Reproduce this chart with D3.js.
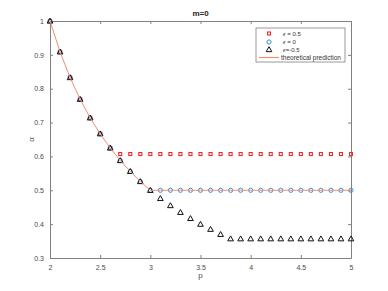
<!DOCTYPE html>
<html>
<head>
<meta charset="utf-8">
<script src="https://cdn.jsdelivr.net/npm/d3@7"></script>
<style>
  body { margin: 0; background: #fff; }
  text { font-family: "Liberation Sans", Arial, sans-serif; }
</style>
</head>
<body>
<script>
let width = 388,
  height = 291

// data
let pValues = [2.0, 2.1, 2.2, 2.3, 2.4, 2.5, 2.6, 2.7, 2.8, 2.9, 3.0, 3.1, 3.2, 3.3, 3.4, 3.5,
  3.6, 3.7, 3.8, 3.9, 4.0, 4.1, 4.2, 4.3, 4.4, 4.5, 4.6, 4.7, 4.8, 4.9, 5.0]
let epsPos = [1, 0.909, 0.833, 0.769, 0.714, 0.667, 0.625, 0.607, 0.607, 0.607, 0.607, 0.607,
  0.607, 0.607, 0.607, 0.607, 0.607, 0.607, 0.607, 0.607, 0.607, 0.607, 0.607, 0.607, 0.607,
  0.607, 0.607, 0.607, 0.607, 0.607, 0.607]
let epsZero = [1, 0.909, 0.833, 0.769, 0.714, 0.667, 0.625, 0.588, 0.556, 0.526, 0.5, 0.5,
  0.5, 0.5, 0.5, 0.5, 0.5, 0.5, 0.5, 0.5, 0.5, 0.5, 0.5, 0.5, 0.5, 0.5, 0.5, 0.5, 0.5, 0.5, 0.5]
let epsNeg = [1, 0.909, 0.833, 0.769, 0.714, 0.667, 0.625, 0.588, 0.556, 0.526, 0.5, 0.476,
  0.455, 0.435, 0.417, 0.4, 0.385, 0.37, 0.357, 0.357, 0.357, 0.357, 0.357, 0.357, 0.357,
  0.357, 0.357, 0.357, 0.357, 0.357, 0.357]
let theory = [1, 0.909, 0.833, 0.769, 0.714, 0.667, 0.625, 0.588, 0.556, 0.526, 0.5, 0.5,
  0.5, 0.5, 0.5, 0.5, 0.5, 0.5, 0.5, 0.5, 0.5, 0.5, 0.5, 0.5, 0.5, 0.5, 0.5, 0.5, 0.5, 0.5, 0.5]
let xTicks = [2, 2.5, 3, 3.5, 4, 4.5, 5]
let yTicks = [0.3, 0.4, 0.5, 0.6, 0.7, 0.8, 0.9, 1]
let legendLabels = ["ϵ = 0.5", "ϵ = 0", "ϵ=-0.5", "theoretical prediction"]

let margin = { left: 50, top: 21, right: 37, bottom: 33 }
let plotW = width - margin.left - margin.right,
  plotH = height - margin.top - margin.bottom

let axisColor = '#808080',
  textColor = '#4a4a4a'

let svg = d3.select('body').append('svg')
  .attr('width', width)
  .attr('height', height)

let x = d3.scaleLinear().domain([2, 5]).range([margin.left, margin.left + plotW])
let y = d3.scaleLinear().domain([0.3, 1]).range([margin.top + plotH, margin.top])

// axes (ticks pointing inward, box on)
function styleAxis(g) {
  g.select('.domain').attr('stroke', axisColor).attr('stroke-width', 1)
  g.selectAll('.tick line').attr('stroke', axisColor)
  g.selectAll('.tick text').attr('fill', textColor).attr('font-size', 7)
}

svg.append('g')
  .attr('transform', `translate(0,${margin.top + plotH})`)
  .call(d3.axisBottom(x).tickValues(xTicks).tickFormat(d3.format('')).tickSizeInner(-3).tickSizeOuter(0).tickPadding(7))
  .call(styleAxis)

svg.append('g')
  .attr('transform', `translate(0,${margin.top})`)
  .call(d3.axisTop(x).tickValues(xTicks).tickFormat('').tickSizeInner(-3).tickSizeOuter(0))
  .call(styleAxis)

svg.append('g')
  .attr('transform', `translate(${margin.left},0)`)
  .call(d3.axisLeft(y).tickValues(yTicks).tickFormat(d3.format('')).tickSizeInner(-3).tickSizeOuter(0).tickPadding(6))
  .call(styleAxis)

svg.append('g')
  .attr('transform', `translate(${margin.left + plotW},0)`)
  .call(d3.axisRight(y).tickValues(yTicks).tickFormat('').tickSizeInner(-3).tickSizeOuter(0))
  .call(styleAxis)

// labels
svg.append('text')
  .attr('x', margin.left + plotW / 2)
  .attr('y', 16)
  .attr('text-anchor', 'middle')
  .attr('font-size', 8)
  .attr('font-weight', '700')
  .attr('fill', '#222')
  .text('m=0')

svg.append('text')
  .attr('x', margin.left + plotW / 2)
  .attr('y', 278)
  .attr('text-anchor', 'middle')
  .attr('font-size', 8)
  .attr('fill', textColor)
  .text('p')

svg.append('text')
  .attr('transform', `translate(34,${margin.top + plotH / 2}) rotate(-90)`)
  .attr('text-anchor', 'middle')
  .attr('font-size', 8)
  .attr('fill', textColor)
  .text('α')

let points = pValues.map((p, i) => ({ p: p, pos: epsPos[i], zero: epsZero[i], neg: epsNeg[i], th: theory[i] }))

let red = '#f02a2a',
  blue = '#3d8fd0',
  lineColor = '#ee9070'

let triangle = d3.symbol().type(d3.symbolTriangle).size(14)

// markers
svg.append('g').selectAll('rect')
  .data(points)
  .enter().append('rect')
  .attr('x', d => x(d.p) - 1.5)
  .attr('y', d => y(d.pos) - 1.5)
  .attr('width', 3)
  .attr('height', 3)
  .attr('fill', 'none')
  .attr('stroke', red)
  .attr('stroke-width', 1.1)

svg.append('g').selectAll('circle')
  .data(points)
  .enter().append('circle')
  .attr('cx', d => x(d.p))
  .attr('cy', d => y(d.zero))
  .attr('r', 2.1)
  .attr('fill', 'none')
  .attr('stroke', blue)
  .attr('stroke-width', 1)

svg.append('g').selectAll('path')
  .data(points)
  .enter().append('path')
  .attr('d', triangle)
  .attr('transform', d => `translate(${x(d.p)},${y(d.neg) + 0.5})`)
  .attr('fill', 'none')
  .attr('stroke', '#111')
  .attr('stroke-width', 1)

// theoretical line
svg.append('path')
  .datum(points)
  .attr('fill', 'none')
  .attr('stroke', lineColor)
  .attr('stroke-width', 1)
  .attr('d', d3.line().x(d => x(d.p)).y(d => y(d.th)))

// legend
let legend = svg.append('g').attr('transform', 'translate(256,28)')
legend.append('rect')
  .attr('width', 89)
  .attr('height', 34)
  .attr('fill', '#fff')
  .attr('stroke', axisColor)
  .attr('stroke-width', 0.8)

let rowY = [5.5, 14, 21.5, 29.5]
legendLabels.forEach((label, i) => {
  let row = legend.append('g').attr('transform', `translate(0,${rowY[i]})`)
  if (i === 0) {
    row.append('rect').attr('x', 11.5).attr('y', -1.5).attr('width', 3).attr('height', 3)
      .attr('fill', 'none').attr('stroke', red).attr('stroke-width', 1.1)
  } else if (i === 1) {
    row.append('circle').attr('cx', 13).attr('cy', 0).attr('r', 2.1)
      .attr('fill', 'none').attr('stroke', blue)
  } else if (i === 2) {
    row.append('path').attr('d', triangle).attr('transform', 'translate(13,0.5)')
      .attr('fill', 'none').attr('stroke', '#111')
  } else {
    row.append('line').attr('x1', 3).attr('x2', 23).attr('y1', 0).attr('y2', 0)
      .attr('stroke', lineColor).attr('stroke-width', 1.2)
  }
  let t = row.append('text')
    .attr('x', i === 3 ? 25 : 27)
    .attr('dy', '0.35em')
    .attr('font-size', i === 3 ? 6.5 : 6)
    .attr('fill', '#333')
  if (i < 3) {
    t.append('tspan').attr('font-style', 'italic').text('ϵ')
    t.append('tspan').text(label.slice(1))
  } else {
    t.text(label)
  }
})
</script>
</body>
</html>
